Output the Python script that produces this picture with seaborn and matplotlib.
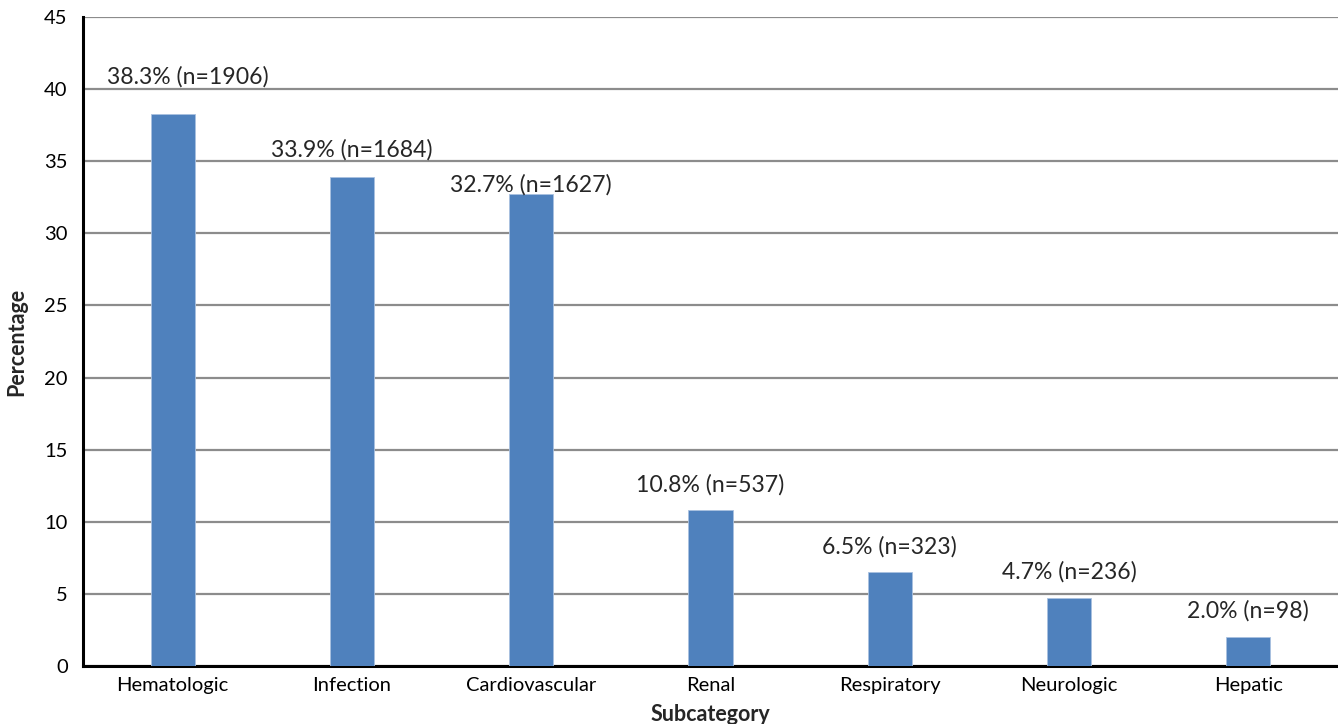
import matplotlib
matplotlib.use("Agg")
import matplotlib.pyplot as plt
import seaborn as sns
import pandas as pd

categories = ["Hematologic", "Infection", "Cardiovascular", "Renal", "Respiratory", "Neurologic", "Hepatic"]
percentages = [38.3, 33.9, 32.7, 10.8, 6.5, 4.7, 2.0]
counts = [1906, 1684, 1627, 537, 323, 236, 98]
yticks = [0, 5, 10, 15, 20, 25, 30, 35, 40, 45]

df = pd.DataFrame({"Subcategory": categories, "Percentage": percentages})

sns.set_style("white")
plt.rcParams["font.family"] = ["Lato", "DejaVu Sans"]

fig = plt.figure(figsize=(13.38, 7.24), dpi=100)
ax = fig.add_axes([0.062, 0.080, 0.938, 0.8965])

sns.barplot(data=df, x="Subcategory", y="Percentage", color="#4F81BD",
            width=0.246, saturation=1, ax=ax, zorder=3, linewidth=0.6, edgecolor="#A9C1E0")

ax.set_xlim(-0.5, 6.5)
ax.set_ylim(0, 45)
ax.set_yticks(yticks)
ax.yaxis.grid(True, color="#8C8C8C", linewidth=1.6, zorder=0)
ax.set_axisbelow(True)
for s in ["top", "right"]:
    ax.spines[s].set_visible(False)
ax.spines["left"].set_linewidth(2.2)
ax.spines["bottom"].set_linewidth(2.2)
ax.spines["left"].set_color("black")
ax.spines["bottom"].set_color("black")
ax.tick_params(axis="y", direction="out", length=7, width=2.2, labelsize=14.5, colors="black", pad=4)
ax.tick_params(axis="x", length=0, labelsize=14.5, colors="black", pad=8)

ax.set_xlabel("Subcategory", fontsize=15.5, fontweight="bold", labelpad=7)
ax.set_ylabel("Percentage", fontsize=15.5, fontweight="bold", labelpad=12)

# label offsets (points) to mimic manual placement
dx = [11, 0, 0, 0, 0, 0, 0]
dy = [26.6, 19.4, 7.2, 18.7, 18.7, 18.7, 18.7]
for i, (p, n) in enumerate(zip(percentages, counts)):
    ax.annotate(f"{p:.1f}% (n={n})", xy=(i, p), xytext=(dx[i], dy[i]),
                textcoords="offset points", ha="center", va="center", fontsize=16.6)

fig.savefig("out.png", dpi=100)
